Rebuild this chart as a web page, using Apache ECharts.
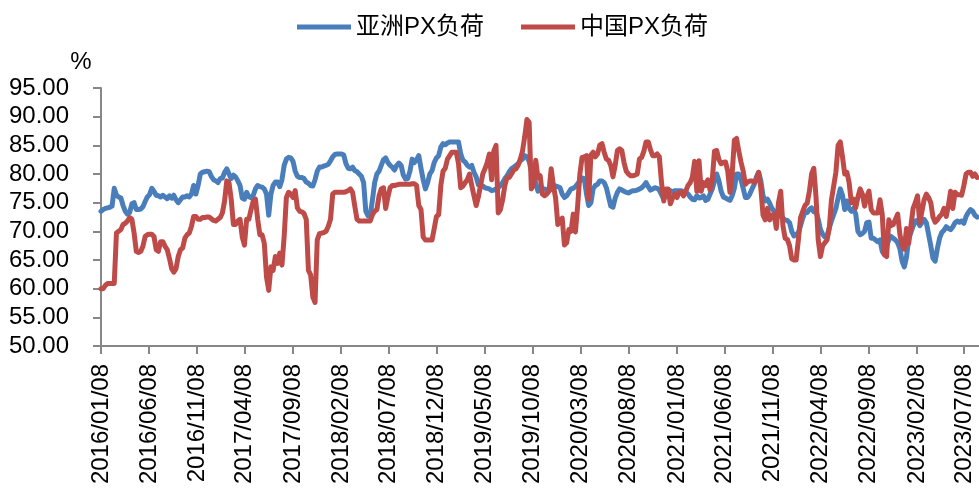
<!DOCTYPE html>
<html>
<head>
<meta charset="utf-8">
<script src="https://cdn.jsdelivr.net/npm/echarts@6/dist/echarts.min.js"></script>
<style>
  html, body { margin: 0; padding: 0; background: #ffffff; }
  #chart { width: 979px; height: 491px; }
</style>
</head>
<body>
<div id="chart"></div>
<script>
// Weekly PX operating rates (%), first observation on 2016/01/08, one value per week.
const firstWeek = [2016, 1, 8];
const seriesNames = ['亚洲PX负荷', '中国PX负荷'];

// 亚洲PX负荷
const asiaRate = [
  73.5, 73.8, 74.0, 74.1, 74.2, 74.4, 77.5, 76.3, 76.0, 75.8,
  74.5, 73.5, 73.0, 73.3, 74.8, 75.0, 73.8, 73.8, 73.9, 74.3,
  75.2, 76.0, 76.4, 77.5, 77.0, 76.3, 76.2, 76.0, 76.3, 76.0,
  75.7, 76.2, 75.8, 76.3, 75.5, 75.0, 75.5, 76.0, 76.0, 76.2,
  76.0, 76.5, 78.0, 76.5, 78.0, 80.0, 80.3, 80.4, 80.5, 80.4,
  79.6, 79.0, 78.8, 78.5, 79.2, 79.3, 80.3, 80.9, 80.0, 79.2,
  79.8, 79.5, 78.8, 78.0, 75.8,
  75.6, 76.8, 76.0, 75.9, 76.3, 77.4, 78.0, 77.8, 77.7, 77.4,
  76.5, 72.8, 76.5, 78.0, 78.6, 78.6, 77.8, 79.0, 81.5, 82.6,
  82.9, 82.8, 82.2, 80.5, 79.6, 79.4, 79.4, 79.2, 78.6, 78.4,
  78.0, 77.9, 79.0, 80.5, 81.2, 81.2, 81.4, 81.5, 81.7, 82.3,
  83.0, 83.4, 83.5, 83.5, 83.5, 83.3, 81.8, 81.0, 80.9, 81.2,
  80.6, 80.4, 80.0, 79.6, 78.5, 73.5, 72.7, 72.8, 75.5, 78.5,
  80.0, 80.5, 81.5, 82.5, 82.8, 82.0, 81.5, 81.2, 80.7, 81.5,
  81.9, 81.5, 79.8, 79.1, 79.2, 80.5, 82.6, 82.0, 82.5, 83.2,
  81.0, 79.0, 77.4, 78.5, 80.0, 80.6, 82.0, 82.8, 83.2, 84.7,
  85.3, 85.1, 85.4, 85.6, 85.6, 85.6, 85.6, 85.6, 83.5, 82.4,
  82.1, 81.5, 81.2, 81.5, 80.3, 79.5, 78.1, 77.9, 77.9, 77.6,
  77.5, 77.4, 77.1, 77.2, 77.4, 77.6, 78.0, 78.5, 79.2, 79.7,
  80.4, 80.9, 81.2, 81.5, 81.8, 82.3, 82.6, 83.2, 83.0, 82.2,
  80.5, 79.5, 78.5, 77.0, 77.3, 77.4, 77.4, 77.2, 77.4, 77.3,
  77.4, 77.9, 77.8, 77.6, 76.5, 75.9, 76.2, 76.8, 77.4, 77.5,
  77.8, 78.3, 78.8, 79.3, 79.2, 76.5, 74.5, 75.0, 77.4, 78.0,
  78.2, 78.8, 78.8, 78.5, 77.6, 76.0, 74.4, 74.2, 75.8, 76.8,
  77.4, 77.2, 77.0, 76.8, 76.7, 76.9, 77.1, 77.1, 77.2, 77.4,
  77.6, 78.0, 78.5, 77.8, 77.2, 77.4, 77.6, 77.5, 77.2, 76.4,
  75.6, 76.6, 77.0, 77.1, 76.9, 77.1, 77.1, 77.1, 77.1, 76.9,
  76.8, 76.5, 76.0, 75.6, 75.5, 76.2, 75.8, 75.9, 76.2, 75.4,
  75.6, 76.5, 77.4, 78.8, 80.0, 78.8, 77.0, 76.0, 75.8, 75.6,
  75.4, 76.2, 77.5, 80.0, 80.0, 79.0, 77.5, 75.9, 75.9, 76.5,
  77.4, 78.2, 79.5, 80.3, 78.8, 76.2, 75.3, 75.6, 74.9, 74.0,
  73.5, 73.0, 72.9, 72.6, 72.3, 72.0, 71.9, 71.5, 70.0, 69.2,
  69.5, 69.7, 71.0, 72.3, 73.3, 73.3, 73.8, 74.1, 73.4, 73.5,
  72.1, 70.3, 69.5, 69.0, 69.2, 70.6, 71.8, 72.9, 74.0, 75.8,
  77.4, 76.3, 73.8, 75.3, 74.0, 73.5, 74.0, 73.0, 70.0, 69.4,
  69.6, 70.0, 71.5, 71.6, 68.8, 68.8, 68.5, 68.2, 68.5, 66.5,
  65.9, 67.5, 68.5, 69.1, 68.8, 68.5, 68.0, 67.0, 64.8, 63.8,
  65.5, 68.8, 69.8, 70.9, 71.8, 71.9, 71.0, 71.5, 72.1, 71.5,
  69.5, 67.5, 65.3, 64.8, 67.0, 68.8, 69.8, 70.2, 70.8, 70.5,
  70.3, 70.8, 71.5, 71.8, 71.6, 71.8, 71.4, 72.6, 73.3, 73.8,
  73.5, 72.8, 72.5
];

// 中国PX负荷
const chinaRate = [
  60.0, 60.0, 60.6, 60.9, 60.9, 60.9, 60.9, 69.7, 70.0, 70.3,
  71.2, 71.4, 71.8, 72.4, 72.1, 69.7, 66.5, 66.3, 66.5, 67.4,
  69.1, 69.4, 69.5, 69.5, 69.1, 66.8, 66.5, 68.2, 68.2, 67.4,
  66.8, 65.3, 63.5, 62.9, 63.5, 65.6, 66.8, 67.1, 68.8, 69.4,
  69.7, 70.9, 72.6, 72.6, 72.1, 72.1, 72.4, 72.4, 72.5, 72.5,
  72.2, 71.9, 71.8, 72.1, 72.4, 73.2, 75.3, 78.8, 78.5, 75.6,
  71.2, 71.2, 71.8, 72.1, 69.0, 67.6, 72.1, 72.1, 73.8, 75.3,
  75.6, 72.1, 69.4, 69.4, 67.9, 62.0, 59.7, 63.8, 63.2, 65.6,
  64.4, 66.2, 64.1, 69.1, 75.9, 76.8, 76.5, 75.9, 77.1, 74.1,
  73.5, 73.4, 73.1, 72.1, 63.2, 62.4, 58.5, 57.6, 68.5, 69.6,
  69.7, 69.8, 70.0, 70.9, 72.1, 76.5, 76.8, 76.8, 76.8, 76.8,
  76.8, 76.9, 77.1, 77.4, 76.8, 74.4, 72.1, 71.8, 71.8, 71.8,
  71.8, 71.8, 71.8, 72.9, 73.5, 73.8, 76.2, 77.4, 77.6, 74.0,
  76.0, 77.6, 78.0, 78.0, 78.1, 78.2, 78.2, 78.2, 78.2, 78.2,
  78.2, 78.3, 78.3, 78.0, 74.5, 73.8, 69.0, 68.5, 68.5, 68.5,
  68.5, 70.5, 72.6, 72.9, 78.0, 80.5, 81.0, 82.6, 83.2, 83.8,
  83.8, 83.8, 81.8, 77.6, 77.9, 78.5, 79.0, 80.0, 78.0, 76.2,
  74.5, 76.0, 78.0, 80.0, 80.9, 82.0, 83.5, 79.0, 84.0, 85.0,
  73.2, 73.8, 75.5, 78.0, 79.4, 79.4, 80.0, 80.7, 80.9, 81.5,
  82.6, 84.0, 86.5, 89.5, 89.0, 77.4, 78.0, 82.4, 79.3, 79.7,
  76.5, 76.2, 76.5, 77.0, 80.9, 78.0, 75.8, 71.2, 72.0, 72.3,
  67.6, 68.0, 70.3, 70.0, 73.0, 69.9, 74.5, 80.0, 82.9, 83.0,
  83.2, 75.6, 83.3, 83.8, 83.0, 83.5, 85.0, 85.3, 83.8, 82.6,
  82.4, 81.5, 79.5, 81.5, 84.1, 84.4, 84.1, 82.0, 80.5, 80.0,
  79.7, 79.7, 79.8, 80.0, 82.6, 82.9, 84.0, 85.6, 85.6, 84.2,
  83.2, 83.2, 83.5, 83.0, 78.5, 75.3, 77.4, 77.4, 74.8, 75.8,
  76.5, 75.9, 76.8, 76.8, 76.2, 77.0, 78.0, 78.5, 79.5, 82.2,
  77.0, 82.3, 77.0, 78.5, 78.0, 79.0, 77.2, 79.0, 84.0, 84.1,
  82.5, 81.8, 82.0, 82.1, 80.5, 76.8, 80.0, 85.9, 86.2, 84.0,
  82.1, 80.5, 78.2, 78.6, 78.8, 78.8, 78.5, 79.0, 80.3, 77.5,
  72.8, 72.0, 74.0, 72.0, 72.8, 73.0, 70.5, 75.0, 77.0, 71.0,
  68.8, 68.6, 67.5, 65.2, 65.0, 65.0, 68.5, 72.4, 73.5, 74.5,
  74.9, 77.0, 80.0, 81.0, 76.0, 68.5, 65.6, 67.5, 68.0, 68.5,
  70.5, 75.5, 77.9, 80.3, 85.0, 85.6, 83.0, 80.0, 80.3, 78.5,
  75.0, 75.6, 74.1, 76.0, 77.4, 76.5, 74.4, 76.0, 77.0, 73.8,
  73.2, 73.2, 73.2, 75.5, 73.0, 66.0, 65.6, 72.0, 71.0, 71.2,
  72.1, 73.0, 69.5, 67.5, 66.9, 70.5, 67.9, 70.9, 74.0, 75.0,
  76.2, 71.5, 73.5, 75.5, 76.5, 75.9, 75.0, 72.5, 71.6, 72.0,
  72.6, 73.0, 74.0, 72.6, 74.5, 77.0, 74.0, 76.8, 76.4, 76.4,
  76.3, 78.0, 80.0, 80.3, 80.3, 79.6, 80.0, 79.4
];

// Dates shown under the x axis (every five months)
const tickDates = [
  '2016/01/08', '2016/06/08', '2016/11/08', '2017/04/08', '2017/09/08',
  '2018/02/08', '2018/07/08', '2018/12/08', '2019/05/08', '2019/10/08',
  '2020/03/08', '2020/08/08', '2021/01/08', '2021/06/08', '2021/11/08',
  '2022/04/08', '2022/09/08', '2023/02/08', '2023/07/08'
];
const axisEndDate = '2023/08/24';

function toTime(str) {
  const p = str.split('/').map(Number);
  return new Date(p[0], p[1] - 1, p[2]).getTime();
}
function weekTime(i) {
  return new Date(firstWeek[0], firstWeek[1] - 1, firstWeek[2] + 7 * i).getTime();
}
function pad(n) { return n < 10 ? '0' + n : '' + n; }
function fmtDate(t) {
  const d = new Date(t);
  return d.getFullYear() + '/' + pad(d.getMonth() + 1) + '/' + pad(d.getDate());
}
function pairs(values) {
  return values.map((v, i) => [weekTime(i), v]);
}

const tickTimes = tickDates.map(toTime);
const axisColor = '#878787';
const latin = "'Liberation Sans', 'Noto Sans CJK SC', sans-serif";

const chart = echarts.init(document.getElementById('chart'), null, { renderer: 'canvas' });
chart.setOption({
  animation: false,
  backgroundColor: '#ffffff',
  color: ['#4A7EBB', '#BE4B48'],
  legend: {
    top: 10,
    left: 292,
    icon: 'rect',
    itemWidth: 54,
    itemHeight: 5,
    itemGap: 37,
    textStyle: { fontSize: 24, color: '#000', fontFamily: latin },
    data: seriesNames
  },
  grid: { left: 101, right: 0, top: 88, bottom: 145, containLabel: false },
  xAxis: {
    // dates as millisecond timestamps on a linear axis
    type: 'value',
    min: toTime(tickDates[0]),
    max: toTime(axisEndDate),
    axisLine: { show: true, lineStyle: { color: axisColor, width: 2 } },
    axisTick: {
      show: true, length: 8, inside: false,
      customValues: tickTimes,
      lineStyle: { color: axisColor, width: 2 }
    },
    axisLabel: {
      customValues: tickTimes,
      rotate: 90,
      margin: 18,
      fontSize: 24,
      color: '#000',
      fontFamily: latin,
      hideOverlap: false,
      formatter: (v) => fmtDate(v)
    },
    splitLine: { show: false },
    minorTick: { show: false }
  },
  yAxis: {
    type: 'value',
    min: 50,
    max: 95,
    interval: 5,
    name: '%',
    nameLocation: 'end',
    nameGap: 14,
    nameTextStyle: { fontSize: 24, color: '#000', fontFamily: latin, padding: [0, 40, 0, 0] },
    axisLine: { show: true, lineStyle: { color: axisColor, width: 2 } },
    axisTick: { show: true, length: 8, inside: false, lineStyle: { color: axisColor, width: 2 } },
    axisLabel: {
      margin: 32,
      fontSize: 24,
      color: '#000',
      fontFamily: latin,
      formatter: (v) => v.toFixed(2)
    },
    splitLine: { show: false }
  },
  series: [
    {
      name: seriesNames[0],
      type: 'line',
      data: pairs(asiaRate),
      showSymbol: false,
      symbol: 'none',
      lineStyle: { width: 5, join: 'round', cap: 'round' },
      z: 2
    },
    {
      name: seriesNames[1],
      type: 'line',
      data: pairs(chinaRate),
      showSymbol: false,
      symbol: 'none',
      lineStyle: { width: 5, join: 'round', cap: 'round' },
      z: 3
    }
  ]
});
</script>
</body>
</html>
